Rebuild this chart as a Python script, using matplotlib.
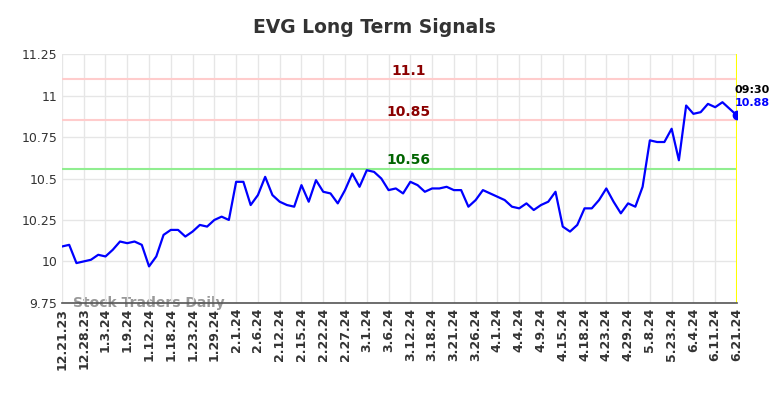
import numpy as np
import matplotlib
matplotlib.use("Agg")
import matplotlib.pyplot as plt
import matplotlib.transforms as mtransforms

# tick dates, one label every 3 points
tick_labels = ["12.21.23", "12.28.23", "1.3.24", "1.9.24", "1.12.24", "1.18.24",
               "1.23.24", "1.29.24", "2.1.24", "2.6.24", "2.12.24", "2.15.24",
               "2.22.24", "2.27.24", "3.1.24", "3.6.24", "3.12.24", "3.18.24",
               "3.21.24", "3.26.24", "4.1.24", "4.4.24", "4.9.24", "4.15.24",
               "4.18.24", "4.23.24", "4.29.24", "5.8.24", "5.23.24", "6.4.24",
               "6.11.24", "6.21.24"]

prices = [10.09, 10.10, 9.99, 10.00, 10.01, 10.04, 10.03, 10.07, 10.12, 10.11,
          10.12, 10.10, 9.97, 10.03, 10.16, 10.19, 10.19, 10.15, 10.18, 10.22,
          10.21, 10.25, 10.27, 10.25, 10.48, 10.48, 10.34, 10.40, 10.51, 10.40,
          10.36, 10.34, 10.33, 10.46, 10.36, 10.49, 10.42, 10.41, 10.35, 10.43,
          10.53, 10.45, 10.55, 10.54, 10.50, 10.43, 10.44, 10.41, 10.48, 10.46,
          10.42, 10.44, 10.44, 10.45, 10.43, 10.43, 10.33, 10.37, 10.43, 10.41,
          10.39, 10.37, 10.33, 10.32, 10.35, 10.31, 10.34, 10.36, 10.42, 10.21,
          10.18, 10.22, 10.32, 10.32, 10.37, 10.44, 10.36, 10.29, 10.35, 10.33,
          10.45, 10.73, 10.72, 10.72, 10.80, 10.61, 10.94, 10.89, 10.90, 10.95,
          10.93, 10.96, 10.92, 10.88]

resistance = [11.1, 10.85]
support = [10.56]
yticks = [9.75, 10, 10.25, 10.5, 10.75, 11, 11.25]
ytick_text = ["9.75", "10", "10.25", "10.5", "10.75", "11", "11.25"]
last_time = "09:30"

x = np.arange(len(prices))

fig = plt.figure(figsize=(7.84, 3.98), dpi=100)
ax = fig.add_axes([0.079, 0.239, 0.861, 0.625])

ax.plot(x, prices, color="#0000ff", lw=1.6, zorder=3)
ax.plot(x[-1], prices[-1], "o", color="#0000ff", ms=6, zorder=4)

for lvl in resistance:
    ax.axhline(lvl, color="#ffcccc", lw=1.5, zorder=2)
for lvl in support:
    ax.axhline(lvl, color="#90ee90", lw=1.5, zorder=2)

trans = mtransforms.blended_transform_factory(ax.transAxes, ax.transData)
for lvl in resistance:
    ax.text(0.514, lvl + 0.008, str(lvl), transform=trans, ha="center", va="bottom",
            color="#8b0000", fontsize=10, fontweight="bold")
for lvl in support:
    ax.text(0.514, lvl + 0.008, str(lvl), transform=trans, ha="center", va="bottom",
            color="#006400", fontsize=10, fontweight="bold")

ax.axvline(x[-1], color="#ffff00", lw=1.5, zorder=2)

ax.text(x[-1] - 0.3, prices[-1] + 0.155, last_time, ha="left", va="center",
        fontsize=8, fontweight="bold", color="black")
ax.text(x[-1] - 0.3, prices[-1] + 0.075, "%.2f" % prices[-1], ha="left", va="center",
        fontsize=8, fontweight="bold", color="#0000ff")

ax.text(0.016, 0.0, "Stock Traders Daily", transform=ax.transAxes, ha="left",
        va="center", fontsize=10, fontweight="bold", color="#999999", zorder=1)

ax.set_xlim(0, len(prices) - 1)
ax.set_ylim(9.75, 11.25)
ax.set_xticks(x[::3])
ax.set_xticklabels(tick_labels, rotation=90, fontsize=9, fontweight="bold")
ax.set_yticks(yticks)
ax.set_yticklabels(ytick_text, fontsize=9)
ax.tick_params(length=0, colors="#333333")
ax.grid(True, color="#e6e6e6", lw=1)

for s in ["top", "right", "left"]:
    ax.spines[s].set_visible(False)
ax.spines["bottom"].set_color("#555555")
ax.spines["bottom"].set_linewidth(1.2)
ax.spines["bottom"].set_zorder(6)

fig.suptitle("EVG Long Term Signals", x=0.478, y=0.955, fontsize=13.5,
             fontweight="bold", color="#333333")

fig.savefig("out.png", dpi=100)
